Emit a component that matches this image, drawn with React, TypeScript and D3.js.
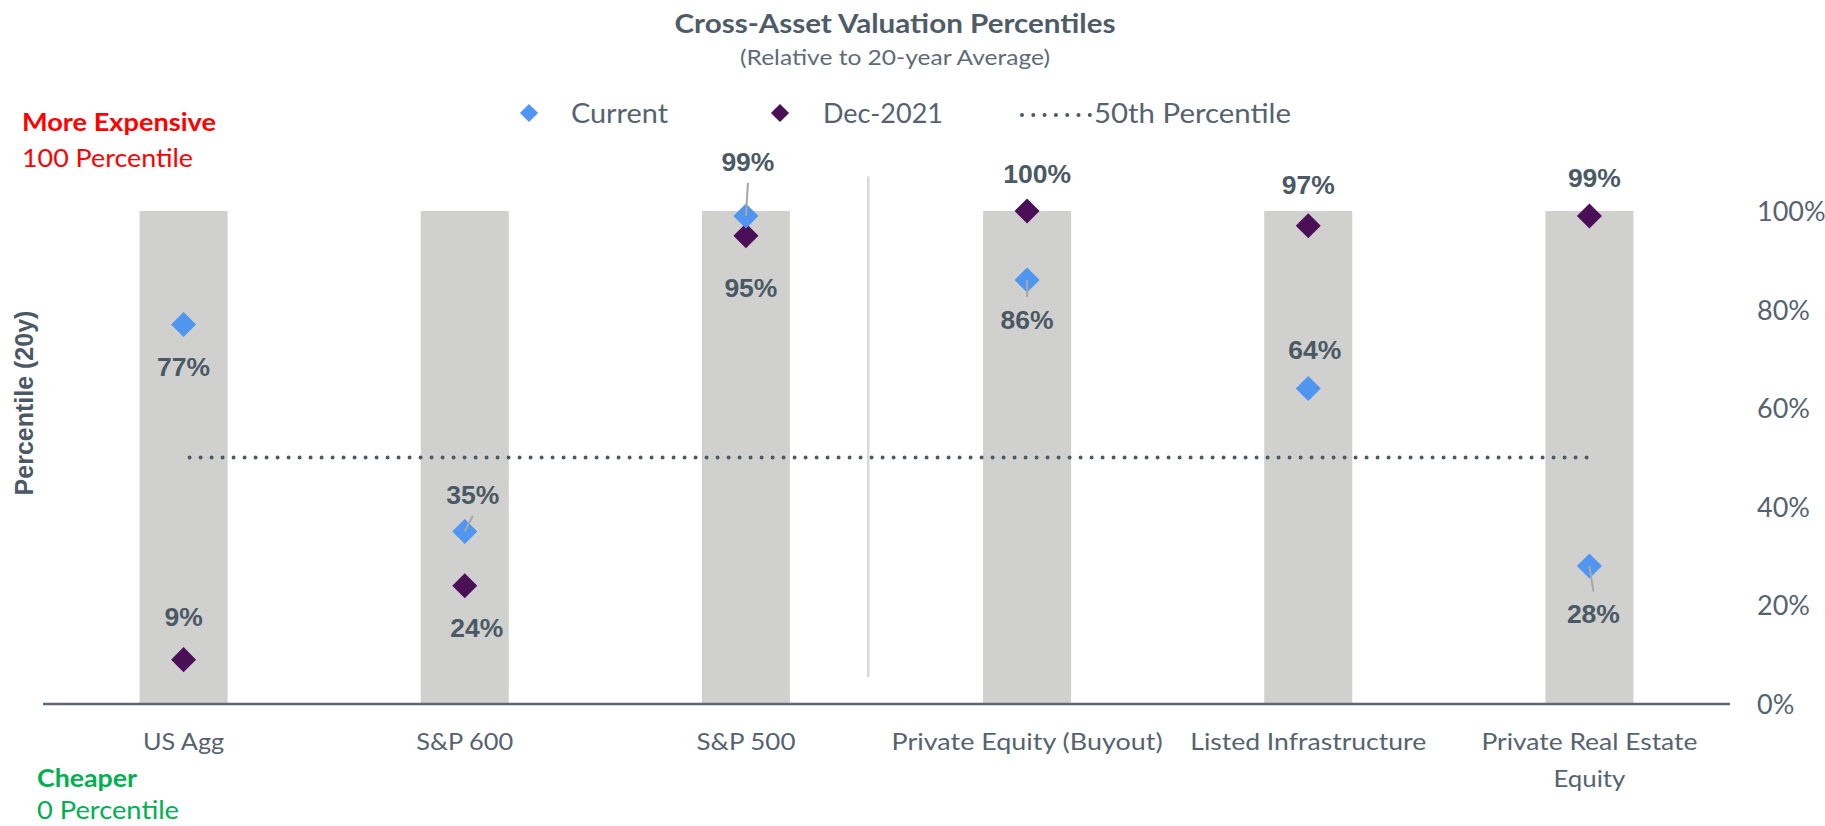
import React from 'react';
import * as d3 from 'd3';

// ---------- data ----------
const categories = ['US Agg', 'S&P 600', 'S&P 500', 'Private Equity (Buyout)', 'Listed Infrastructure', 'Private Real Estate Equity'];
const categoryLines = [['US Agg'], ['S&P 600'], ['S&P 500'], ['Private Equity (Buyout)'], ['Listed Infrastructure'], ['Private Real Estate', 'Equity']];
const currentValues = [77, 35, 99, 86, 64, 28];
const dec2021Values = [9, 24, 95, 100, 97, 99];
const yTicks = [0, 20, 40, 60, 80, 100];
const referenceLevel = 50;
const seriesNames = ['Current', 'Dec-2021', '50th Percentile'];

// ---------- layout / style ----------
const W = 1825;
const H = 826;
const C_CURRENT = '#5095f0';
const C_DEC = '#4a0f57';
const C_BAR = '#d0d0cf';
const C_TEXT = '#4b5965';
const C_LABEL = '#56636f';
const SANS = 'Lato, "Open Sans", sans-serif';
const BOLD_SANS = '"Liberation Sans", Arial, sans-serif';

// rendered text widths (to emulate the condensed original face)
const textWidths: Record<string, number> = {
  'Cross-Asset Valuation Percentiles': 441,
  '(Relative to 20-year Average)': 310,
  'Current': 97,
  'Dec-2021': 120,
  '50th Percentile': 197,
  'More Expensive': 194,
  '100 Percentile': 171,
  'Cheaper': 100,
  '0 Percentile': 142,
  'US Agg': 81,
  'S&P 600': 97,
  'S&P 500': 99,
  'Private Equity (Buyout)': 271,
  'Listed Infrastructure': 236,
  'Private Real Estate': 216,
  'Equity': 72,
};

// label offsets (dx, dy of label baseline relative to its marker)
const currentLabelOffsets = [[0, 52], [8, -27.5], [2, -45], [0, 49], [6.5, -29.5], [4, 57.5]];
const decLabelOffsets = [[0, -34], [12, 51.6], [5, 61.7], [10, -28.3], [0, -31.5], [5, -28.7]];
const currentLeader = [false, true, true, true, false, true];

function T(props: any) {
  const { children, w, ...rest } = props;
  const len = w ?? textWidths[String(children)];
  return (
    <text {...rest} textLength={len} lengthAdjust="spacingAndGlyphs">{children}</text>
  );
}

export default function App() {
  const x = d3.scalePoint<string>().domain(categories).range([43, 1730]).padding(0.5);
  const step = x.step();
  const barW = step * 0.313;
  const y = d3.scaleLinear().domain([0, 100]).range([704, 211]);
  const diamond = d3.symbol(d3.symbolSquare, 313)() as string;
  const legendDiamond = d3.symbol(d3.symbolSquare, 165)() as string;
  const dotted = d3.line()([
    [(x(categories[0]) as number) + 6, y(referenceLevel)],
    [(x(categories[categories.length - 1]) as number) + 1, y(referenceLevel)],
  ]) as string;
  const sepX = (x('S&P 500') as number) + step * 0.435;

  const leader = (cx: number, cy: number, off: number[]) => {
    const lx = cx + off[0];
    const ly = cy + off[1];
    const ey = off[1] < 0 ? ly + 12 : ly - 32;
    return <line x1={cx} y1={cy} x2={lx} y2={ey} stroke="#a6a6a6" strokeWidth={2} />;
  };

  return (
    <svg width={W} height={H} style={{ position: 'absolute', left: 0, top: 0, background: '#fff' }}>
      {/* title */}
      <T x={895} y={33} textAnchor="middle" fontFamily={SANS} fontWeight={700} fontSize={26} fill="#4f5c68">Cross-Asset Valuation Percentiles</T>
      <T x={895} y={65} textAnchor="middle" fontFamily={SANS} fontSize={21} fill="#5f6b76">(Relative to 20-year Average)</T>

      {/* legend */}
      <g>
        <path d={legendDiamond} transform="translate(529,113) rotate(45)" fill={C_CURRENT} />
        <T x={571} y={123} fontFamily={SANS} fontSize={27} fill={C_LABEL}>{seriesNames[0]}</T>
        <path d={legendDiamond} transform="translate(780,113) rotate(45)" fill={C_DEC} />
        <T x={823} y={123} fontFamily={SANS} fontSize={27} fill={C_LABEL}>{seriesNames[1]}</T>
        <line x1={1022} x2={1090} y1={115} y2={115} stroke={C_TEXT} strokeWidth={4} strokeDasharray="0 11.3" strokeLinecap="round" />
        <T x={1094} y={123} fontFamily={SANS} fontSize={27} fill={C_LABEL}>{seriesNames[2]}</T>
      </g>

      {/* side annotations */}
      <T x={22} y={131} fontFamily={SANS} fontWeight={700} fontSize={24.5} fill="#ff0000">More Expensive</T>
      <T x={22} y={167} fontFamily={SANS} fontSize={24.5} fill="#ff0000">100 Percentile</T>
      <T x={37} y={787} fontFamily={SANS} fontWeight={700} fontSize={24.5} fill="#00b050">Cheaper</T>
      <T x={37} y={819} fontFamily={SANS} fontSize={24.5} fill="#00b050">0 Percentile</T>

      {/* y axis title */}
      <text transform="translate(33,403) rotate(-90)" textAnchor="middle" fontFamily={BOLD_SANS} fontWeight={700} fontSize={25} fill={C_TEXT}>Percentile (20y)</text>

      {/* bars */}
      {categories.map((c) => (
        <rect key={c} x={(x(c) as number) - barW / 2} y={y(100)} width={barW} height={y(0) - y(100)} fill={C_BAR} />
      ))}

      {/* separator */}
      <line x1={sepX} x2={sepX} y1={y(107)} y2={y(5.5)} stroke="#d9d9d9" strokeWidth={2.5} />

      {/* 50th percentile line */}
      <path d={dotted} stroke={C_TEXT} strokeWidth={4} strokeDasharray="0 11" strokeLinecap="round" fill="none" />

      {/* axis line */}
      <line x1={43} x2={1730} y1={y(0)} y2={y(0)} stroke="#5c6873" strokeWidth={2.5} />

      {/* y tick labels */}
      {yTicks.map((t) => (
        <text key={t} x={1757} y={y(t) + 10} fontFamily={SANS} fontSize={27} fill={C_LABEL}>{t}%</text>
      ))}

      {/* x labels */}
      {categories.map((c, i) =>
        categoryLines[i].map((ln, j) => (
          <T key={c + j} x={x(c) as number} y={750 + j * 37} textAnchor="middle" fontFamily={SANS} fontSize={24} fill={C_LABEL}>{ln}</T>
        ))
      )}

      {/* markers */}
      {categories.map((c, i) => (
        <path key={'d' + c} d={diamond} transform={`translate(${x(c)},${y(dec2021Values[i])}) rotate(45)`} fill={C_DEC} />
      ))}
      {categories.map((c, i) => (
        <path key={'c' + c} d={diamond} transform={`translate(${x(c)},${y(currentValues[i])}) rotate(45)`} fill={C_CURRENT} />
      ))}

      {/* leader lines */}
      {categories.map((c, i) =>
        currentLeader[i] ? <g key={'l' + c}>{leader(x(c) as number, y(currentValues[i]), currentLabelOffsets[i])}</g> : null
      )}

      {/* data labels */}
      {categories.map((c, i) => (
        <text key={'tc' + c} x={(x(c) as number) + currentLabelOffsets[i][0]} y={y(currentValues[i]) + currentLabelOffsets[i][1]}
          textAnchor="middle" fontFamily={BOLD_SANS} fontWeight={700} fontSize={26.5} fill={C_TEXT}>{currentValues[i]}%</text>
      ))}
      {categories.map((c, i) => (
        <text key={'td' + c} x={(x(c) as number) + decLabelOffsets[i][0]} y={y(dec2021Values[i]) + decLabelOffsets[i][1]}
          textAnchor="middle" fontFamily={BOLD_SANS} fontWeight={700} fontSize={26.5} fill={C_TEXT}>{dec2021Values[i]}%</text>
      ))}
    </svg>
  );
}
